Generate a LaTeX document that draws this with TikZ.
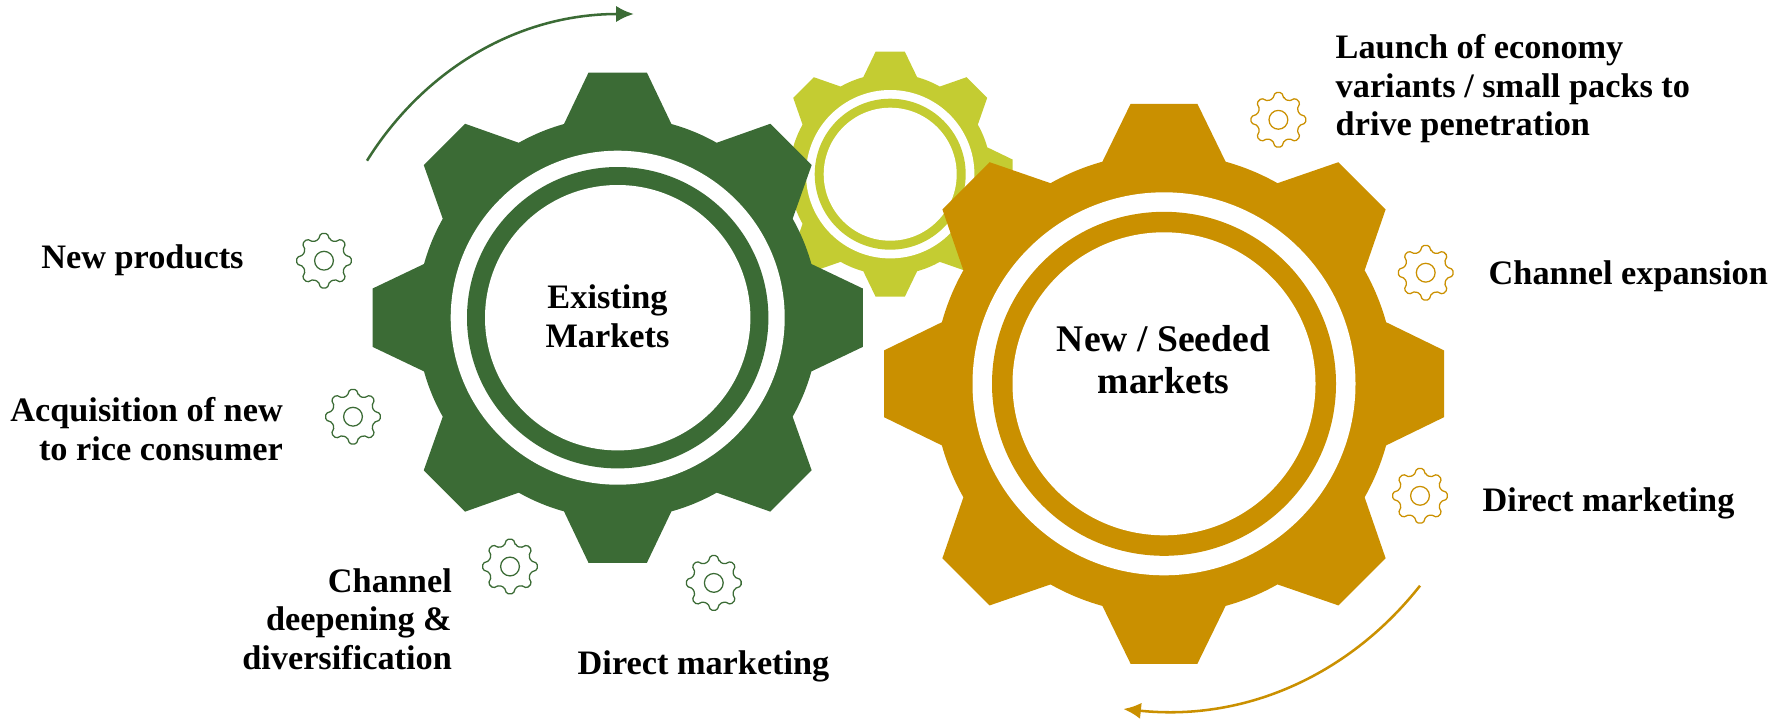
\documentclass[tikz,border=0pt]{standalone}
\usepackage{fontspec}
\setmainfont{Liberation Serif}
\usetikzlibrary{positioning,arrows.meta}
\definecolor{leaf}{HTML}{3B6B35}
\definecolor{straw}{HTML}{CA9000}
\definecolor{lime}{HTML}{C4CC32}
% outline of a gear with eight teeth, #1 tip radius, #2 root radius
\newcommand*{\gearoutline}[2]{(74.5:#2) \foreach \a in {90,135,...,405} {
		-- (\a-6.8:#1) -- (\a+6.8:#1) -- (\a+15.5:#2)
		arc[start angle=\a+15.5, end angle=\a+29.5, radius=#2]} -- cycle}
% #1 centre, #2 colour, #3 tip, #4 root, #5 #6 #7 radii of the rings
\newcommand*{\biggear}[7]{
	\begin{scope}[shift={(#1)}, x=0.01cm, y=0.01cm]
		\fill[#2] \gearoutline{#3}{#4};
		\fill[white] (0,0) circle[radius=#5];
		\fill[#2] (0,0) circle[radius=#6];
		\fill[white] (0,0) circle[radius=#7];
	\end{scope}
}
% small outlined gear, #1 centre, #2 colour
\newcommand*{\cog}[2]{
	\begin{scope}[shift={(#1)}, x=0.01cm, y=0.01cm, draw=#2, line width=0.36pt]
		\draw[rounded corners=0.45pt] \gearoutline{27.5}{21.5};
		\draw (0,0) circle[radius=9.4];
	\end{scope}
}

\begin{document}
\begin{tikzpicture}[x=0.01cm, y=-0.01cm]
	\tikzstyle{textlabel}=[inner sep=0, font=\fontsize{9.75}{10.98}\selectfont\bfseries, text=black]
	\tikzstyle{hublabel}=[textlabel, align=center]
	\tikzstyle{turn}=[line width=0.72pt, -{Latex[length=5pt,width=4.6pt]}]
	\useasboundingbox (0,0) rectangle (1785,721);

	\coordinate (LimeHub) at (890.2,174.2);
	\coordinate (LeafHub) at (617.7,317.7);
	\coordinate (StrawHub) at (1164,383.8);
	\biggear{LimeHub}{lime}{123.4}{100.7}{84.2}{75.5}{66.5}
	\biggear{LeafHub}{leaf}{246.8}{201}{167}{150.7}{132.7}
	\biggear{StrawHub}{straw}{282}{230.5}{191.5}{172}{151.5}

	\node (Existing) [hublabel] at (607.5,316.5) {Existing\\Markets};
	\node (Seeded) [hublabel, font=\fontsize{10.7}{11.95}\selectfont\bfseries] at (1163.5,360) {New / Seeded\\markets};

	\cog{324,260.7}{leaf}
	\cog{353,416.7}{leaf}
	\cog{510,566.5}{leaf}
	\cog{713.8,582.9}{leaf}
	\cog{1278.4,119.8}{straw}
	\cog{1425.7,272.7}{straw}
	\cog{1420,495.8}{straw}

	\node (NewProducts) [textlabel, anchor=east] at (244.3,260.4) {New products};
	\node (Acquisition) [textlabel, anchor=east, align=right] at (283.5,429) {Acquisition of new\\to rice consumer};
	\node (Deepening) [textlabel, anchor=east, align=right] at (452.5,619) {Channel\\deepening \&\\diversification};
	\node (DirectLeaf) [textlabel, anchor=west] at (577,666.5) {Direct marketing};
	\node (Launch) [textlabel, anchor=west, align=left] at (1335,88.8) {Launch of economy\\variants / small packs to\\drive penetration};
	\node (Expansion) [textlabel, anchor=west] at (1488,276.4) {Channel expansion};
	\node (DirectStraw) [textlabel, anchor=west] at (1482,503) {Direct marketing};

	\coordinate (LeafFrom) at (367,160.7);
	\coordinate (LeafTo) at (633.8,14);
	\coordinate (StrawFrom) at (1420,585.7);
	\coordinate (StrawTo) at (1123.3,709);
	\draw[turn, leaf] (LeafFrom) .. controls (421.6,73) and (514,14) .. (LeafTo);
	\draw[turn, straw] (StrawFrom) .. controls (1352,672) and (1249,722) .. (StrawTo);
\end{tikzpicture}
\end{document}
